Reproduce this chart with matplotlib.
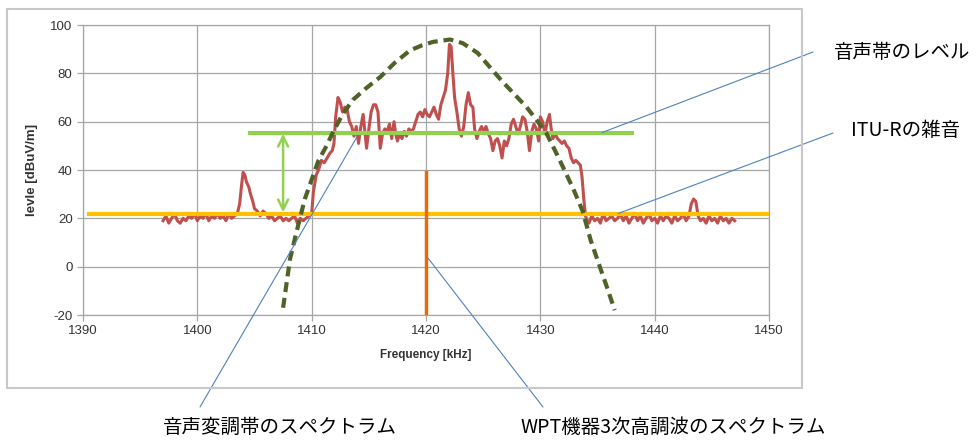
import matplotlib
matplotlib.use("Agg")
import matplotlib.pyplot as plt
from matplotlib.patches import Rectangle

plt.rcParams['font.family'] = ['Liberation Sans', 'DejaVu Sans']
plt.rcParams['axes.unicode_minus'] = False
JP = ['Noto Sans CJK JP', 'DejaVu Sans']

# measured spectrum (red trace)
freq = [1397.0, 1397.25, 1397.5, 1397.75, 1398.0, 1398.25, 1398.5, 1398.75, 1399.0, 1399.25,
        1399.5, 1399.75, 1400.0, 1400.25, 1400.5, 1400.75, 1401.0, 1401.25, 1401.5, 1401.75,
        1402.0, 1402.25, 1402.5, 1402.75, 1403.0, 1403.25, 1403.5, 1403.7, 1403.85, 1404.0,
        1404.15, 1404.3, 1404.5, 1404.65, 1404.85, 1405.0, 1405.25, 1405.5, 1405.75, 1406.0,
        1406.25, 1406.5, 1406.75, 1407.0, 1407.25, 1407.5, 1407.75, 1408.0, 1408.25, 1408.5,
        1408.75, 1409.0, 1409.25, 1409.5, 1409.75, 1410.0, 1410.15, 1410.4, 1410.6, 1410.85,
        1411.1, 1411.35, 1411.6, 1411.8, 1411.95, 1412.1, 1412.3, 1412.5, 1412.7, 1412.9,
        1413.1, 1413.3, 1413.5, 1413.7, 1413.9, 1414.1, 1414.3, 1414.5, 1414.65, 1414.8,
        1415.0, 1415.2, 1415.4, 1415.6, 1415.8, 1416.0, 1416.2, 1416.4, 1416.6, 1416.8,
        1417.0, 1417.2, 1417.35, 1417.5, 1417.7, 1417.9, 1418.1, 1418.3, 1418.5, 1418.7,
        1418.9, 1419.1, 1419.3, 1419.5, 1419.7, 1419.9, 1420.1, 1420.3, 1420.5, 1420.7,
        1420.9, 1421.1, 1421.3, 1421.5, 1421.7, 1421.9, 1422.05, 1422.2, 1422.35, 1422.5,
        1422.7, 1422.9, 1423.1, 1423.3, 1423.5, 1423.7, 1423.9, 1424.1, 1424.25, 1424.45,
        1424.65, 1424.85, 1425.05, 1425.25, 1425.45, 1425.65, 1425.85, 1426.05, 1426.25, 1426.45,
        1426.65, 1426.85, 1427.05, 1427.25, 1427.45, 1427.65, 1427.85, 1428.05, 1428.25, 1428.45,
        1428.65, 1428.85, 1429.05, 1429.25, 1429.45, 1429.65, 1429.85, 1430.0, 1430.2, 1430.4,
        1430.6, 1430.8, 1430.95, 1431.1, 1431.3, 1431.5, 1431.7, 1431.9, 1432.1, 1432.3,
        1432.5, 1432.7, 1432.9, 1433.1, 1433.3, 1433.5, 1433.65, 1433.8, 1433.95, 1434.1,
        1434.25, 1434.5, 1434.75, 1435.0, 1435.25, 1435.5, 1435.75, 1436.0, 1436.25, 1436.5,
        1436.75, 1437.0, 1437.25, 1437.5, 1437.75, 1438.0, 1438.25, 1438.5, 1438.75, 1439.0,
        1439.25, 1439.5, 1439.75, 1440.0, 1440.25, 1440.5, 1440.75, 1441.0, 1441.25, 1441.5,
        1441.75, 1442.0, 1442.25, 1442.5, 1442.75, 1443.0, 1443.2, 1443.4, 1443.6, 1443.8,
        1444.0, 1444.25, 1444.5, 1444.75, 1445.0, 1445.25, 1445.5, 1445.75, 1446.0, 1446.25,
        1446.5, 1446.75, 1447.0]
level = [19, 21, 18, 20, 22, 19, 18, 20, 19, 21,
         20, 22, 19, 21, 20, 22, 19, 21, 20, 22,
         20, 21, 19, 22, 20, 21, 22, 26, 33, 39,
         38, 35, 33, 30, 27, 24, 23, 21, 23, 22,
         20, 21, 19, 20, 21, 19, 20, 19, 20, 21,
         18, 20, 19, 20, 21, 22, 31, 38, 40, 44,
         43, 45, 47, 48, 51, 62, 70, 68, 64, 66,
         65, 60, 58, 54, 58, 51, 58, 63, 56, 49,
         57, 64, 67, 67, 64, 49, 55, 57, 56, 59,
         53, 60, 55, 52, 55, 53, 56, 54, 57, 56,
         57, 60, 63, 64, 62, 65, 63, 62, 64, 66,
         63, 61, 67, 70, 73, 80, 92, 91, 80, 70,
         64, 57, 54, 58, 67, 72, 67, 66, 57, 53,
         56, 58, 56, 58, 55, 53, 48, 52, 53, 50,
         45, 52, 50, 53, 59, 61, 58, 55, 58, 62,
         61, 56, 48, 56, 59, 57, 52, 62, 60, 55,
         60, 63, 57, 53, 55, 53, 52, 51, 52, 50,
         49, 45, 43, 44, 43, 42, 37, 28, 21, 19,
         18, 21, 19, 20, 18, 22, 19, 20, 21, 19,
         20, 22, 19, 21, 18, 20, 22, 19, 21, 18,
         20, 22, 19, 20, 18, 21, 19, 21, 20, 18,
         21, 19, 20, 22, 19, 21, 26, 28, 27, 21,
         19, 20, 18, 21, 19, 20, 18, 21, 19, 20,
         18, 20, 19]

# WPT mask (dashed curve)
mask_freq = [1407.5, 1408.1, 1408.55, 1409.0, 1409.4, 1410.0, 1410.6, 1411.3, 1411.9, 1412.7,
             1413.6, 1414.8, 1416.0, 1417.3, 1418.6, 1419.6, 1420.6, 1422.1, 1423.2, 1424.5,
             1425.6, 1426.7, 1428.0, 1428.8, 1429.7, 1430.5, 1431.5, 1432.0, 1432.9, 1433.7,
             1434.4, 1435.2, 1435.9, 1436.5]
mask_level = [-17, 3, 12, 20.5, 28, 36, 44, 50, 56, 63,
              69, 74, 78.5, 84.5, 89.5, 91.5, 93, 94, 92.5, 88.5,
              82.5, 76.5, 70, 66, 60.5, 55.5, 46, 41, 32, 23,
              11, 0, -9.5, -18]

voice_level = 55.5
voice_span = [1404.6, 1438.0]
itu_level = 22
itu_span = [1390.5, 1450]
wpt_freq = 1420
wpt_span = [-20, 39]
arrow_freq = 1407.5

xticks = [1390, 1400, 1410, 1420, 1430, 1440, 1450]
yticks = [-20, 0, 20, 40, 60, 80, 100]

fig = plt.figure(figsize=(9.79, 4.41), dpi=100)
fig.patches.append(Rectangle((0.0072, 0.120), 0.812, 0.8596, transform=fig.transFigure,
                             fill=False, edgecolor='#c8c8c8', lw=1.5))
ax = fig.add_axes([0.0848, 0.2857, 0.7007, 0.6576])

ax.plot(freq, level, color='#c0504d', lw=2.2, zorder=3)
ax.plot(itu_span, [itu_level, itu_level], color='#ffc000', lw=3, zorder=4)
ax.plot(voice_span, [voice_level, voice_level], color='#92d050', lw=3, zorder=4)
ax.plot([wpt_freq, wpt_freq], wpt_span, color='#e46c0a', lw=2.5, zorder=4)
ax.plot(mask_freq, mask_level, color='#4f6228', lw=3, dashes=(2.4, 1.4), zorder=5)
ax.annotate('', xy=(arrow_freq, itu_level + 0.5), xytext=(arrow_freq, voice_level - 0.5),
            arrowprops=dict(arrowstyle='<->', color='#92d050', lw=1.8,
                            mutation_scale=18, shrinkA=0, shrinkB=0), zorder=4)

ax.set_xlim(1390, 1450)
ax.set_ylim(-20, 100)
ax.set_xticks(xticks)
ax.set_yticks(yticks)
ax.grid(True, color='#a6a6a6', lw=0.9)
ax.set_axisbelow(True)
for s in ax.spines.values():
    s.set_color('#a6a6a6')
    s.set_linewidth(0.9)
ax.tick_params(colors='#a6a6a6', labelcolor='#333333', labelsize=9.5, length=4, width=0.9)
ax.set_xlabel('Frequency [kHz]', fontsize=8.5, fontweight='bold', color='#333333', labelpad=8)
ax.set_ylabel('levle [dBuV/m]', fontsize=9.5, fontweight='bold', color='#333333', labelpad=9)

# callout lines
blue = '#4f81bd'
callouts = [((1414.0, 54), (200, 407)),
            ((1420.1, 4), (543, 407)),
            ((1435.4, 55.5), (813, 52)),
            ((1436.8, 22), (833, 133))]
for xy, px in callouts:
    ax.annotate('', xy=xy, xytext=(px[0] / 979, 1 - px[1] / 441), textcoords='figure fraction',
                arrowprops=dict(arrowstyle='-', color=blue, lw=0.8, shrinkA=0, shrinkB=0),
                annotation_clip=False, zorder=6)

fig.text(902 / 979, 1 - 52 / 441, '音声帯のレベル', family=JP, fontsize=14, ha='center', va='center')
fig.text(906 / 979, 1 - 131 / 441, 'ITU-Rの雑音', family=JP, fontsize=14, ha='center', va='center')
fig.text(280 / 979, 1 - 427 / 441, '音声変調帯のスペクトラム', family=JP, fontsize=14, ha='center', va='center')
fig.text(673 / 979, 1 - 427 / 441, 'WPT機器3次高調波のスペクトラム', family=JP, fontsize=14, ha='center', va='center')

fig.savefig('out.png', dpi=100)
